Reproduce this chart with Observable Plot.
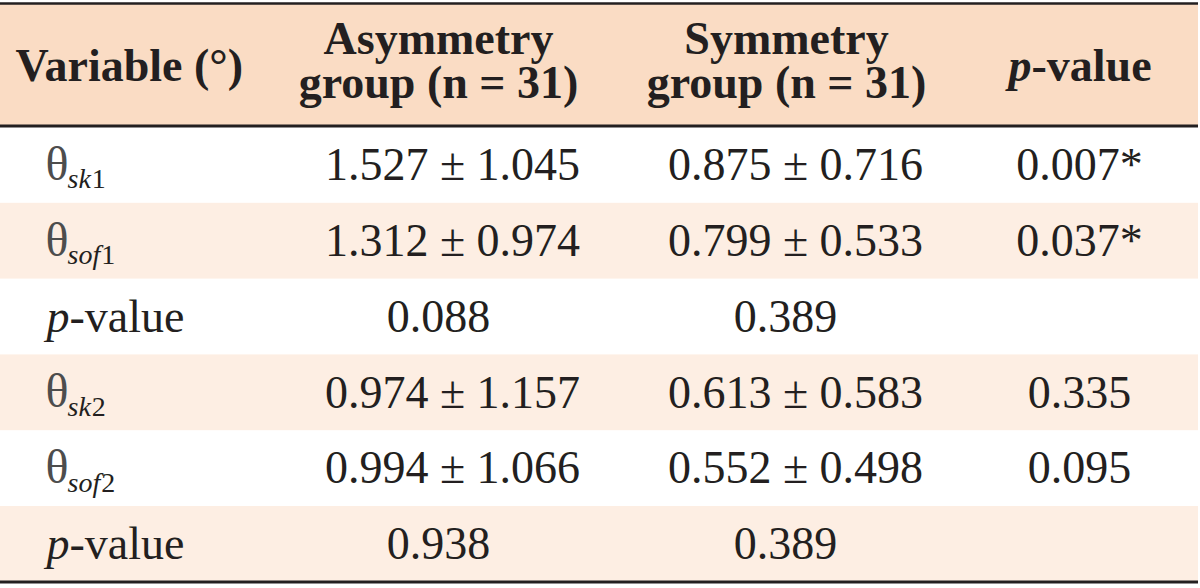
<!DOCTYPE html>
<html><head><meta charset="utf-8">
<script src="https://cdn.jsdelivr.net/npm/d3@7"></script>
<script src="https://cdn.jsdelivr.net/npm/@observablehq/plot@0.6"></script>
<style>html,body{margin:0;padding:0;background:#fff;} svg{display:block;}</style>
</head><body><div id="chart"></div>
<script>
// ---- data ----
const columnHeaders = ["Variable (°)", "Asymmetry\ngroup (n = 31)", "Symmetry\ngroup (n = 31)", "p-value"];
const variables = ["θsk1", "θsof1", "p-value", "θsk2", "θsof2", "p-value"];
const asymMean = [1.527, 1.312, 0.088, 0.974, 0.994, 0.938];
const asymSD   = [1.045, 0.974, null, 1.157, 1.066, null];
const symMean  = [0.875, 0.799, 0.389, 0.613, 0.552, 0.389];
const symSD    = [0.716, 0.533, null, 0.583, 0.498, null];
const pValues  = [0.007, 0.037, null, 0.335, 0.095, null];
const significant = [true, true, false, false, false, false];

// ---- layout ----
const W = 1200, H = 588;
const L = {top: 3, headTop: 4, headBottom: 125.5, bodyTop: 127, rowH: 75.8, bottom: 581.5, right: 1198,
  labelX: 45, subX: 67, pJoinX: 69, asymX: 452, asymSingleX: 438, symX: 795, symSingleX: 785, pX: 1079,
  headX: [15, 438, 786], headPJoin: 1031};
const ink = "#231f20", headFill = "#fadcc4", stripe = "#fdeee3", font = "Liberation Serif";
const bodySize = 46, headSize = 46, subSize = 28;

// measure subscript letters so the upright digit follows them
const ctx = document.createElement("canvas").getContext("2d");
ctx.font = `italic ${subSize}px "${font}"`;
const measure = s => ctx.measureText(s).width;

const fmt = v => v.toFixed(3);
const rows = variables.map((v, i) => {
  const isP = v.startsWith("p");
  const rest = isP ? "-value" : v.slice(1);
  const letters = rest.replace(/\d+$/, "");
  const digits = isP ? "" : rest.slice(letters.length);
  return {
    i, isP,
    sym: isP ? "p" : v[0],
    sub: rest, letters, digits,
    digitX: L.subX + measure(letters) + 1,
    asym: asymSD[i] == null ? fmt(asymMean[i]) : `${fmt(asymMean[i])} ± ${fmt(asymSD[i])}`,
    sym2: symSD[i] == null ? fmt(symMean[i]) : `${fmt(symMean[i])} ± ${fmt(symSD[i])}`,
    p: pValues[i] == null ? "" : fmt(pValues[i]) + (significant[i] ? "*" : ""),
    y1: L.bodyTop + L.rowH * i,
    y2: L.bodyTop + L.rowH * (i + 1),
    cy: L.bodyTop + L.rowH * (i + 0.5)
  };
});
const headCy = (L.headTop + L.headBottom) / 2;
const angleRows = rows.filter(d => !d.isP), pRows = rows.filter(d => d.isP);

const base = {fontFamily: font, fill: ink};
const chart = Plot.plot({
  width: W, height: H,
  margin: 0,
  x: {domain: [0, W], range: [0, W], axis: null},
  y: {domain: [0, H], range: [0, H], axis: null},
  style: {fontFamily: font, background: "#fff"},
  marks: [
    Plot.rect([0], {x1: 0, x2: L.right, y1: L.headTop, y2: L.headBottom, fill: headFill}),
    Plot.rect(rows.filter(d => d.i % 2 === 1), {x1: 0, x2: L.right, y1: "y1", y2: "y2", fill: stripe}),
    Plot.ruleY([L.top], {x1: 0, x2: L.right, stroke: ink, strokeWidth: 2.5}),
    Plot.ruleY([L.headBottom, L.bottom], {x1: 0, x2: L.right, stroke: ink, strokeWidth: 3}),
    // header
    Plot.text([columnHeaders[0]], {...base, x: L.headX[0], y: headCy, text: d => d, textAnchor: "start",
      fontWeight: "bold", fontSize: headSize, dy: 1}),
    Plot.text(columnHeaders.slice(1, 3), {...base, x: (d, i) => L.headX[i + 1], y: headCy, text: d => d,
      textAnchor: "middle", fontWeight: "bold", fontSize: headSize, lineHeight: 0.95, dy: -3}),
    Plot.text([columnHeaders[3]], {...base, x: L.headPJoin, y: headCy, text: d => d[0], textAnchor: "end",
      fontWeight: "bold", fontStyle: "italic", fontSize: headSize, dy: 1}),
    Plot.text([columnHeaders[3]], {...base, x: L.headPJoin, y: headCy, text: d => d.slice(1), textAnchor: "start",
      fontWeight: "bold", fontSize: headSize, dy: 1}),
    // body labels: θ with italic letters and upright digit subscript
    Plot.text(angleRows, {fontFamily: font, fill: "#4d4d4d", x: L.labelX, y: "cy", text: "sym",
      textAnchor: "start", fontSize: 48, dy: -1}),
    Plot.text(angleRows, {...base, x: L.subX, y: "cy", text: "letters",
      textAnchor: "start", fontStyle: "italic", fontSize: subSize, dy: 14}),
    Plot.text(angleRows, {...base, x: "digitX", y: "cy", text: "digits",
      textAnchor: "start", fontSize: subSize, dy: 14}),
    Plot.text(pRows, {...base, x: L.pJoinX, y: "cy", text: "sym",
      textAnchor: "end", fontStyle: "italic", fontSize: bodySize, dy: 0}),
    Plot.text(pRows, {...base, x: L.pJoinX, y: "cy", text: "sub",
      textAnchor: "start", fontSize: bodySize, dy: 0}),
    // body values
    Plot.text(rows, {...base, x: d => d.isP ? L.asymSingleX : L.asymX, y: "cy", text: "asym",
      textAnchor: "middle", fontSize: bodySize, dy: 0}),
    Plot.text(rows, {...base, x: d => d.isP ? L.symSingleX : L.symX, y: "cy", text: "sym2",
      textAnchor: "middle", fontSize: bodySize, dy: 0}),
    Plot.text(rows, {...base, x: L.pX, y: "cy", text: "p",
      textAnchor: "middle", fontSize: bodySize, dy: 0})
  ]
});
document.getElementById("chart").appendChild(chart);
</script>
</body></html>
